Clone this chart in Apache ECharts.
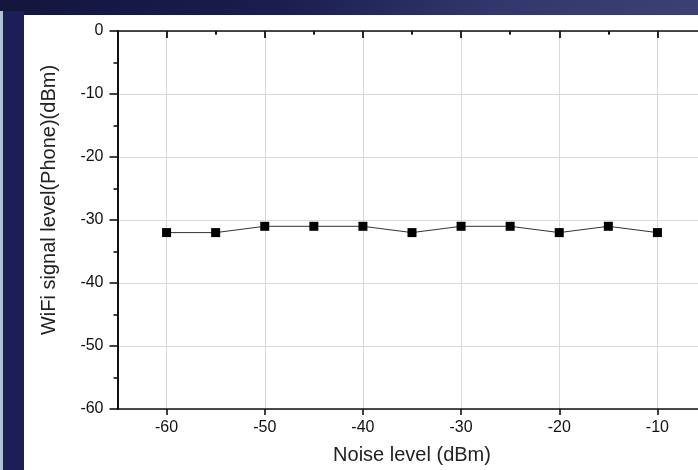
<!DOCTYPE html>
<html>
<head>
<meta charset="utf-8">
<script src="https://cdn.jsdelivr.net/npm/echarts@6/dist/echarts.min.js"></script>
<style>
  html, body { margin: 0; padding: 0; width: 698px; height: 470px; overflow: hidden; }
  body { background: linear-gradient(90deg, #13153c 0%, #1a1d4e 40%, #33366a 70%, #3d4072 100%); position: relative; }
  #leftbar { position: absolute; left: 0; top: 11px; width: 24px; bottom: 0; background: #1c1f56; }
  #strip { position: absolute; left: 0; top: 11px; width: 3px; bottom: 0; background: #aec3d8; }
  #panel { position: absolute; left: 24px; top: 15px; right: 0; bottom: 0; background: #ffffff; }
  #chart { position: absolute; left: 0; top: 0; width: 730px; height: 470px; }
</style>
</head>
<body>
<div id="leftbar"></div>
<div id="strip"></div>
<div id="panel"></div>
<div id="chart"></div>
<script>
// Data
const noiseLevels = [-60, -55, -50, -45, -40, -35, -30, -25, -20, -15, -10];
const wifiSignal = [-32, -32, -31, -31, -31, -32, -31, -31, -32, -31, -32];
const xMajorTicks = [-60, -50, -40, -30, -20, -10];
const xMinorTicks = [-55, -45, -35, -25, -15];
const xName = 'Noise level (dBm)';
const yName = 'WiFi signal level(Phone)(dBm)';

const axisColor = '#111111';
const gridColor = '#d9d9d9';
const font = 'Liberation Sans, Arial, sans-serif';

const chart = echarts.init(document.getElementById('chart'), null, { renderer: 'canvas' });

function xAxisBase(extra) {
  return Object.assign({
    type: 'value', min: -65, max: -5, z: 20,
    splitLine: { show: false },
    axisLabel: { show: false },
    axisLine: { show: false },
    axisTick: { show: false }
  }, extra);
}

const option = {
  animation: false,
  backgroundColor: 'transparent',
  grid: { left: 117.5, top: 31, width: 589, height: 383, containLabel: false },
  xAxis: [
    xAxisBase({
      position: 'bottom',
      axisLine: { show: true, onZero: false, lineStyle: { color: axisColor, width: 1.6 } },
      axisTick: { show: true, customValues: xMajorTicks, length: 6, lineStyle: { color: axisColor, width: 1.6 } },
      axisLabel: { show: true, customValues: xMajorTicks, fontSize: 16, color: '#111', fontFamily: font, margin: 11 },
      name: xName, nameLocation: 'middle', nameGap: 36,
      nameTextStyle: { fontSize: 20, color: '#222', fontFamily: font }
    }),
    xAxisBase({
      position: 'bottom',
      axisTick: { show: true, customValues: xMinorTicks, length: 3.5, lineStyle: { color: axisColor, width: 1.6 } }
    }),
    xAxisBase({
      position: 'top',
      axisLine: { show: true, onZero: false, lineStyle: { color: axisColor, width: 1.6 } },
      axisTick: { show: true, inside: true, customValues: xMajorTicks, length: 7, lineStyle: { color: axisColor, width: 1.8 } }
    }),
    xAxisBase({
      position: 'top',
      axisTick: { show: true, inside: true, customValues: xMinorTicks, length: 3.5, lineStyle: { color: axisColor, width: 1.6 } }
    })
  ],
  yAxis: [
    {
      type: 'value', position: 'left', min: -60, max: 0, interval: 10,
      axisLine: { show: true, onZero: false, lineStyle: { color: axisColor, width: 2 } },
      axisTick: { show: true, length: 8, lineStyle: { color: axisColor, width: 1.6 } },
      minorTick: { show: true, splitNumber: 2, length: 4, lineStyle: { color: axisColor, width: 1.6 } },
      axisLabel: { fontSize: 16, color: '#111', fontFamily: font, margin: 14 },
      splitLine: { show: true, lineStyle: { color: gridColor, width: 1 } }
    },
    {
      type: 'value', position: 'right', min: -60, max: 0, interval: 10,
      axisLine: { show: true, onZero: false, lineStyle: { color: axisColor, width: 2 } },
      axisTick: { show: true, inside: true, length: 8, lineStyle: { color: axisColor, width: 1.6 } },
      minorTick: { show: true, splitNumber: 2, length: 4, lineStyle: { color: axisColor, width: 1.6 } },
      axisLabel: { show: false },
      splitLine: { show: false }
    }
  ],
  graphic: [
    {
      type: 'text', x: 49, y: 200, rotation: Math.PI / 2,
      style: { text: yName, fill: '#222', font: '20px ' + font, textAlign: 'center', textVerticalAlign: 'middle' }
    }
  ],
  series: [
    {
      type: 'line', xAxisIndex: 0, yAxisIndex: 0, data: [], z: 1,
      markLine: {
        silent: true, symbol: 'none', animation: false, z: 1,
        label: { show: false },
        lineStyle: { color: gridColor, width: 1, type: 'solid' },
        data: xMajorTicks.map(v => ({ xAxis: v }))
      }
    },
    {
      type: 'line', xAxisIndex: 0, yAxisIndex: 0, z: 10,
      data: noiseLevels.map((x, i) => [x, wifiSignal[i]]),
      symbol: 'rect', symbolSize: 9,
      itemStyle: { color: '#000' },
      lineStyle: { color: '#333', width: 1 },
      emphasis: { disabled: true }
    }
  ]
};
chart.setOption(option);
</script>
</body>
</html>
